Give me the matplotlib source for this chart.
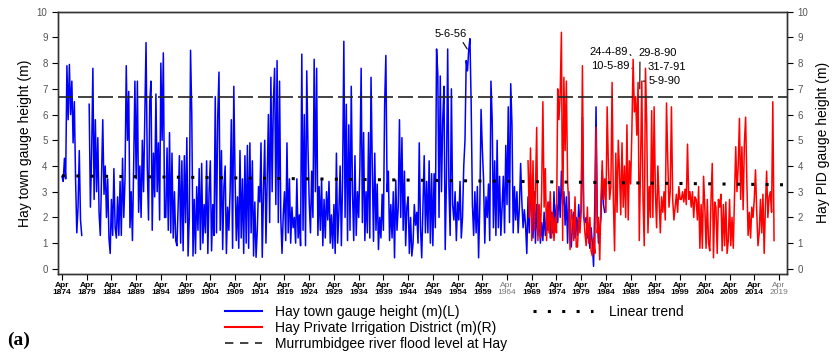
import numpy as np
import matplotlib.pyplot as plt
from matplotlib.lines import Line2D

nan = np.nan

# quarterly gauge readings (m)
blue_start = 1874.25
blue_height = [
    3.6, 3.4, 4.3, 3.5,   7.9, 5.8, 7.95, 6.0,  7.3, 4.9, 6.5, 3.5,   1.4, 2.4, 4.6, 1.9,   # 1874-77
    1.3, nan, 2.3, nan,   2.0, nan, 6.4, 2.4,   4.5, 7.8, 2.7, 5.8,   3.0, 5.1, 2.2, 1.3,   # 1878-81
    3.5, 5.8, 2.9, 4.0,   2.0, 3.5, 1.2, 0.6,   2.7, 1.3, 3.9, 1.6,   1.2, 2.8, 1.3, 3.4,   # 1882-85
    1.3, 4.3, 2.0, 3.5,   7.9, 5.0, 6.9, 1.6,   3.0, 1.1, 4.0, 7.3,   3.5, 7.3, 2.2, 4.0,   # 1886-89
    2.0, 5.0, 3.0, 6.0,   8.8, 4.0, 1.9, 6.5,   7.3, 1.5, 4.5, 2.8,   6.8, 3.0, 4.9, 1.9,   # 1890-93
    8.0, 5.0, 8.4, 2.0,   2.0, 4.7, 1.5, 5.3,   1.4, 4.5, 1.2, 3.0,   1.1, 0.9, 2.5, 4.4,   # 1894-97
    1.0, 4.2, 0.7, 4.4,   1.8, 5.1, 0.5, 2.0,   8.5, 6.0, 0.5, 2.7,   0.6, 3.2, 1.5, 3.9,   # 1898-1901
    0.75, 4.1, 1.0, 2.5,  1.4, 4.2, 0.6, 3.0,   4.2, 0.7, 2.5, 1.3,   6.7, 1.4, 5.9, 7.65,  # 1902-05
    1.5, 4.6, 0.75, 3.2,  4.0, 0.6, 2.4, 1.5,   3.0, 5.8, 0.8, 7.1,   3.6, 1.1, 2.8, 0.8,   # 1906-09
    4.6, 1.2, 3.5, 0.6,   4.4, 1.0, 4.8, 0.8,   4.9, 1.4, 4.2, 0.5,   2.6, 0.45, 1.5, 3.2,  # 1910-13
    2.6, 4.9, 0.45, 3.0,  5.0, 1.0, 3.5, 6.0,   1.8, 7.45, 3.0, 6.5,  7.8, 2.5, 8.1, 1.8,   # 1914-17
    7.3, 2.0, 0.6, 2.1,   3.0, 1.1, 4.9, 1.4,   3.5, 1.0, 2.4, 1.6,   2.0, 1.0, 3.5, 1.2,   # 1918-21
    2.1, 0.9, 8.35, 1.5,  6.0, 0.9, 7.7, 4.7,   2.6, 1.4, 3.8, 2.0,   8.15, 3.0, 7.8, 1.3,  # 1922-25
    3.2, 1.5, 3.5, 0.9,   2.7, 1.2, 3.0, 1.9,   3.4, 1.0, 2.1, 0.8,   2.5, 0.6, 4.5, 1.0,   # 1926-29
    2.2, 4.0, 0.9, 3.5,   8.85, 2.0, 6.4, 1.1,  5.6, 1.5, 7.1, 3.0,   1.1, 4.4, 1.3, 3.0,   # 1930-33
    2.0, 4.0, 7.8, 1.8,   5.3, 1.1, 3.0, 1.4,   5.3, 1.2, 7.45, 4.0,  1.07, 4.5, 1.5, 3.3,  # 1934-37
    0.75, 2.0, 1.2, 2.9,  1.5, 6.4, 8.3, 3.0,   3.8, 1.1, 2.5, 1.2,   3.0, 0.43, 3.45, 1.5, # 1938-41
    2.4, 5.8, 2.0, 5.1,   1.5, 3.8, 0.9, 2.4,   2.8, 0.6, 2.0, 0.5,   1.0, 2.5, 1.7, 2.2,   # 1942-45
    1.0, 4.9, 1.6, 0.43,  2.5, 4.4, 1.4, 3.4,   1.4, 4.2, 1.0, 3.7,   0.9, 3.7, 1.6, 8.55,  # 1946-49
    7.6, 2.0, 7.5, 3.0,   5.8, 7.1, 0.75, 3.5,  8.55, 3.2, 1.3, 7.0,  2.5, 1.9, 3.0, 1.1,   # 1950-53
    2.6, 1.9, 3.4, 1.2,   2.0, 4.0, 5.0, 8.1,   7.7, 8.5, 8.95, 6.4,  2.5, 1.3, 3.0, 1.4,   # 1954-57
    3.2, 0.43, 2.5, 6.2,  4.7, 3.5, 1.0, 2.8,   2.0, 3.3, 1.1, 7.3,   5.8, 1.6, 4.2, 1.3,   # 1958-61
    5.0, 1.6, 3.6, 1.3,   2.4, 3.6, 1.4, 4.8,   2.5, 6.3, 1.8, 7.2,   5.6, 1.4, 3.2, 1.9,   # 1962-65
    3.0, 1.4, 2.4, 4.1,   2.6, 1.6, 2.3, 1.7,   0.6, 2.8, 1.4, 3.7,   2.0, 1.2, 3.0, 1.0,   # 1966-69
    2.5, 1.3, 2.0, 1.0,   1.8, 1.1, 2.2, 1.3,   2.0, 1.5, 2.6, 1.2,   2.2, 1.4, 3.0, 1.5,   # 1970-73
    2.5, 1.8, 3.2, 2.0,   3.8, 2.5, 3.0, 1.7,   2.8, 1.0, 3.0, 1.5,   0.85, 1.8, 2.2, 1.2,  # 1974-77
    2.0, 1.3, 2.5, 1.6,   2.4, 5.9, 2.0, 1.8,   2.0, 1.2, 1.5, 0.8,   1.6, 1.0, 0.1, 2.5,   # 1978-81
    6.3, 2.0, 1.0, 1.5,   2.0, 3.8, 2.5, 2.2,                                             # 1982-83
]

red_start = 1968.5
red_height = [
    4.2, 2.0, 4.7, 1.1,   4.2, 1.5, 3.0, 5.5,   1.1, 2.5, 1.2, 3.0,   6.5, 2.4, 3.9, 1.1,   # 1968-71
    2.6, 1.4, 3.0, 1.2,   2.2, 1.1, 2.0, 1.4,   7.0, 5.8, 6.8, 9.2,   1.1, 7.45, 4.6, 7.3,  # 1972-75
    3.4, 2.4, 0.75, 2.3,  2.0, 1.1, 2.8, 0.85,  0.85, 2.0, 1.4, 2.5,  7.9, 2.2, 1.4, 0.9,   # 1976-79
    2.4, 1.0, 2.0, 0.7,   0.5, 1.2, 0.6, 5.5,   1.4, 2.0, 0.35, 2.7,  4.2, 2.7, 3.5, 2.2,   # 1980-83
    6.3, 4.0, 2.7, 3.2,   7.25, 2.7, 0.7, 4.5,  2.2, 5.0, 3.8, 2.1,   4.9, 2.4, 4.0, 2.0,   # 1984-87
    5.6, 1.9, 4.2, 3.3,   5.4, 8.15, 6.1, 6.7,  5.2, 7.25, 1.1, 4.0,  7.3, 2.7, 0.9, 7.8,   # 1988-91
    5.65, 1.4, 3.2, 2.0,  6.15, 2.0, 6.3, 3.0,  1.6, 4.0, 2.7, 1.4,   2.8, 2.2, 3.0, 1.9,   # 1992-95
    6.45, 4.3, 2.4, 3.0,  6.3, 2.7, 1.9, 2.4,   2.9, 2.2, 3.2, 2.7,   2.7, 3.0, 2.6, 3.1,   # 1996-99
    2.5, 4.85, 2.7, 3.0,  2.4, 3.0, 2.0, 2.8,   2.7, 1.9, 3.2, 0.8,   2.5, 0.8, 3.6, 2.4,   # 2000-03
    0.8, 2.7, 1.0, 0.7,   2.7, 4.1, 0.43, 2.6,  2.4, 0.6, 2.7, 2.4,   2.9, 0.7, 2.5, 0.9,   # 2004-07
    2.6, 0.6, 1.1, 2.7,   0.9, 2.0, 0.8, 2.7,   4.75, 3.0, 4.0, 5.85, 2.7, 4.75, 2.3, 4.9,  # 2008-11
    5.9, 3.4, 1.3, 2.2,   1.2, 2.4, 2.0, 2.7,   3.85, 2.2, 0.9, 1.4,  2.7, 1.4, 2.9, 0.6,   # 2012-15
    2.4, 3.8, 2.0, 2.8,   3.0, 2.2, 6.5, 1.1,                                             # 2016-17
]

flood_level = 6.7
trend_years = [1874.25, 2020.2]
trend_height = [3.62, 3.27]
tick_years = list(range(1874, 2020, 5))
faint_years = [1964, 2019]

plt.rcParams['font.family'] = ['Liberation Sans', 'DejaVu Sans']

blue_t = blue_start + 0.25 * np.arange(len(blue_height))
red_t = red_start + 0.25 * np.arange(len(red_height))

fig = plt.figure(figsize=(8.34, 3.57), dpi=100)
ax = fig.add_axes([0.0695, 0.2325, 0.8741, 0.7347])

ax.plot(blue_t, blue_height, color='#0000ff', lw=1.1)
ax.plot(red_t, red_height, color='#ff0000', lw=1.1)
ax.axhline(flood_level, color='#222222', lw=1.2, ls=(0, (9, 3)))
ax.plot(trend_years, trend_height, color='black', lw=2.2, ls=(0, (1, 3.7)))

ax.set_xlim(1873.44, 2020.86)
ax.set_ylim(-0.2, 10)
ax.set_yticks(range(0, 11))
ax.set_xticks([y + 0.25 for y in tick_years])
ax.set_xticklabels([f'Apr\n{y}' for y in tick_years], fontsize=6, fontweight='bold',
                   linespacing=1.0)
for lab, y in zip(ax.get_xticklabels(), tick_years):
    if y in faint_years:
        lab.set_color('#777777')
        lab.set_fontweight('normal')
ax.tick_params(axis='x', length=4, width=0.8, pad=1.5)
ax.tick_params(axis='y', length=4, width=0.8, labelsize=7, labelcolor='#555555')
ax.set_ylabel('Hay town gauge height (m)', fontsize=10)
ax.yaxis.set_label_coords(-0.036, 0.5)

ax2 = ax.twinx()
ax2.set_ylim(-0.2, 10)
ax2.set_yticks(range(0, 11))
ax2.tick_params(axis='y', length=4, width=0.8, labelsize=7, labelcolor='#555555')
ax2.set_ylabel('Hay PID gauge height (m)', fontsize=10)
ax2.yaxis.set_label_coords(1.040, 0.5)
for a in (ax, ax2):
    for s in a.spines.values():
        s.set_color('#333333')
        s.set_linewidth(1.0)

# flood date annotations
line_kw = dict(arrowstyle='-', lw=0.8, color='black', shrinkA=1, shrinkB=0)
ax.annotate('5-6-56', xy=(1956.2, 8.55), xytext=(1952.9, 9.15), ha='center', va='center',
            fontsize=8, arrowprops=dict(line_kw, relpos=(0.8, 0)))
ax.annotate('24-4-89', xy=(1989.3, 8.3), xytext=(1984.7, 8.45), ha='center', va='center',
            fontsize=8, arrowprops=dict(line_kw, relpos=(1, 0.5)))
ax.annotate('10-5-89', xy=(1989.5, 7.8), xytext=(1985.05, 7.9), ha='center', va='center',
            fontsize=8, arrowprops=dict(line_kw, relpos=(1, 0.5)))
ax.annotate('29-8-90', xy=(1991.1, 7.0), xytext=(1990.9, 8.4), ha='left', va='center',
            fontsize=8, arrowprops=dict(line_kw, relpos=(0.03, 0)))
ax.text(1992.7, 7.85, '31-7-91', ha='left', va='center', fontsize=8)
ax.annotate('5-9-90', xy=(1991.75, 7.3), xytext=(1992.95, 7.3), ha='left', va='center',
            fontsize=8, arrowprops=dict(line_kw, relpos=(0, 0.5)))

h1 = [Line2D([], [], color='#0000ff', lw=1.5),
      Line2D([], [], color='#ff0000', lw=1.5),
      Line2D([], [], color='#222222', lw=1.2, ls=(0, (5, 4)))]
fig.legend(h1, ['Hay town gauge height (m)(L)', 'Hay Private Irrigation District (m)(R)',
                'Murrumbidgee river flood level at Hay'],
           loc='upper left', bbox_to_anchor=(0.27, 0.1457), frameon=False, fontsize=10,
           borderpad=0, borderaxespad=0, handlelength=2.66, handletextpad=0.93,
           labelspacing=0.15)
h2 = [Line2D([], [], color='black', lw=2.2, ls=(0, (1, 3.7)))]
fig.legend(h2, ['Linear trend'], loc='upper left', bbox_to_anchor=(0.639, 0.1457),
           frameon=False, fontsize=10, borderpad=0, borderaxespad=0, handlelength=4.3,
           handletextpad=1.2)

fig.text(0.008, 0.048, '(a)', fontsize=14, fontweight='bold', va='center',
         family=['Liberation Serif', 'DejaVu Serif'])

fig.savefig('out.png', dpi=100)
